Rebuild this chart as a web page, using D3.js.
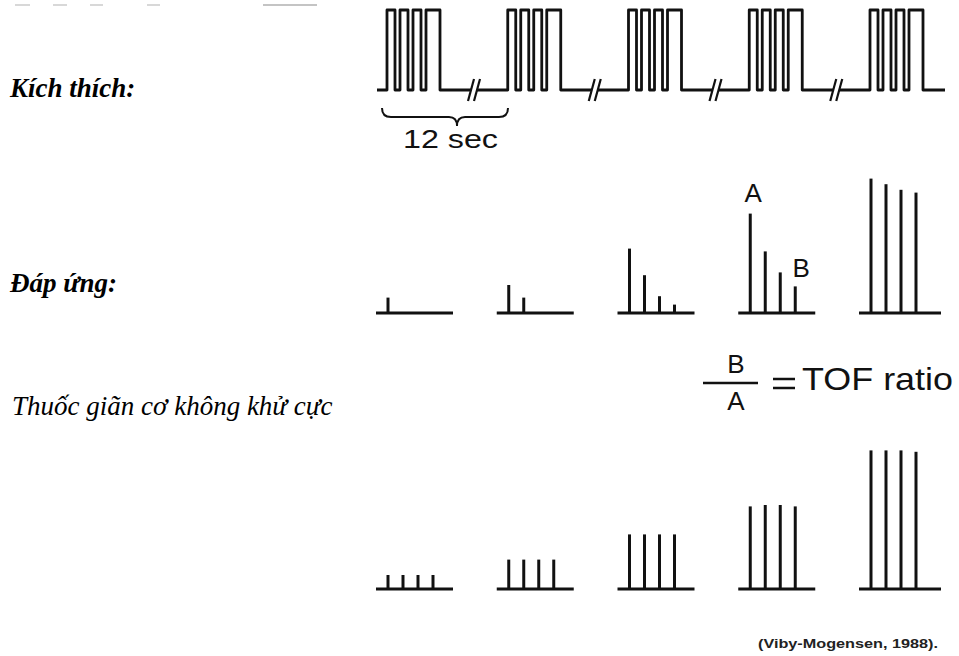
<!DOCTYPE html>
<html><head><meta charset="utf-8">
<script src="https://cdn.jsdelivr.net/npm/d3@7"></script>
<style>body{margin:0;background:#fff}</style>
</head><body><svg id="c" width="959" height="656"></svg>
<script>
// ---- data ----
const groups = [0, 1, 2, 3, 4];
// response heights, % of control twitch
const responseTOF = [[11], [20, 11], [46, 27, 12, 6], [71, 44, 29, 19], [96, 92, 88, 86]];
const responseNonDep = [[10, 10, 10, 10], [21, 21, 21, 21], [39, 39, 39, 39], [59, 60, 60, 59], [99, 99, 99, 98]];
// stimulus pulses in a train (time units)
const pulseStarts = [0, 13, 26, 39];
const pulseDur = [8, 8, 8, 14];
const rowLabels = ["Kích thích:", "Đáp ứng:", "Thuốc giãn cơ không khử cực"];
const braceLabel = "12 sec";
const ratioLabel = "TOF ratio";
const citation = "(Viby-Mogensen, 1988).";

const svg = d3.select("#c");
svg.append("rect").attr("width", 959).attr("height", 656).attr("fill", "#fff");

const x = d3.scalePoint().domain(groups).range([388, 871]);
const spikeX = d3.scaleLinear().domain([0, 3]).range([0, 45]);
const h = d3.scaleLinear().domain([0, 100]).range([0, 140]);
const t = d3.scaleLinear().domain([0, 52]).range([0, 52]);
const ys = d3.scaleLinear().domain([0, 1]).range([90, 10]);

const sans = "'Liberation Sans', Arial, Helvetica, sans-serif";
const serif = "'Liberation Serif', 'Times New Roman', serif";

// faint remnants at top
const g0 = svg.append("g").attr("stroke-width", 2);
[[15, 30, "#d8d8d8"], [53, 67, "#d8d8d8"], [90, 103, "#d8d8d8"], [147, 160, "#d8d8d8"], [263, 317, "#c4c4c4"]].forEach(s => {
  g0.append("line").attr("x1", s[0]).attr("x2", s[1]).attr("y1", 5).attr("y2", 5).attr("stroke", s[2]);
});

// ---- stimulus ----
const p = d3.path();
const y0 = ys(0), y1 = ys(1);
p.moveTo(377, y0);
const breaks = [];
groups.forEach(g => {
  const sx = x(g) - 1;
  p.lineTo(sx, y0);
  pulseStarts.forEach((s, i) => {
    const a = sx + t(s), b = a + t(pulseDur[i]);
    p.lineTo(a, y0); p.lineTo(a, y1); p.lineTo(b, y1); p.lineTo(b, y0);
  });
  if (g < groups.length - 1) {
    const bx = x(g) + 88;
    breaks.push(bx);
    p.lineTo(bx - 5, y0);
    p.moveTo(bx + 1, y0);
  } else {
    p.lineTo(945, y0);
  }
});
svg.append("path").attr("d", p.toString()).attr("fill", "none").attr("stroke", "#111")
  .attr("stroke-width", 2.8).attr("stroke-linejoin", "round");
breaks.forEach(bx => {
  [[-8, -2], [-2, 4]].forEach(o => {
    svg.append("line").attr("x1", bx + o[0]).attr("y1", y0 + 11).attr("x2", bx + o[1]).attr("y2", y0 - 11)
      .attr("stroke", "#111").attr("stroke-width", 2.2);
  });
});

// brace + 12 sec
svg.append("path")
  .attr("d", "M382,108 Q382,117 391,117 L449,117 Q457,117 457,126 Q457,117 465,117 L499,117 Q508,117 508,108")
  .attr("fill", "none").attr("stroke", "#111").attr("stroke-width", 2);
svg.append("text").attr("x", 403).attr("y", 148).attr("font-family", sans).attr("font-size", 26)
  .attr("textLength", 95).attr("lengthAdjust", "spacingAndGlyphs").attr("fill", "#111").text(braceLabel);

// ---- responses ----
function drawRow(data, base) {
  const gr = svg.append("g");
  groups.forEach(g => {
    gr.append("line").attr("x1", x(g) - 12).attr("x2", x(g) + (g === 4 ? 70 : 65))
      .attr("y1", base).attr("y2", base).attr("stroke", "#111").attr("stroke-width", 3);
    gr.selectAll(null).data(data[g]).enter().append("line")
      .attr("x1", (d, i) => x(g) + spikeX(i)).attr("x2", (d, i) => x(g) + spikeX(i))
      .attr("y1", base).attr("y2", d => base - h(d))
      .attr("stroke", "#111").attr("stroke-width", 3);
  });
}
const base1 = 313, base2 = 589;
drawRow(responseTOF, base1);
drawRow(responseNonDep, base2);

// A and B labels
svg.append("text").attr("x", x(3) + 3).attr("y", base1 - h(responseTOF[3][0]) - 12)
  .attr("text-anchor", "middle").attr("font-family", sans).attr("font-size", 26).attr("fill", "#111").text("A");
svg.append("text").attr("x", x(3) + spikeX(3) + 6).attr("y", base1 - h(responseTOF[3][3]) - 9)
  .attr("text-anchor", "middle").attr("font-family", sans).attr("font-size", 26).attr("fill", "#111").text("B");

// TOF ratio formula
svg.append("text").attr("x", 736).attr("y", 373).attr("text-anchor", "middle").attr("font-family", sans)
  .attr("font-size", 26).attr("fill", "#111").text("B");
svg.append("line").attr("x1", 703).attr("x2", 758).attr("y1", 383).attr("y2", 383)
  .attr("stroke", "#111").attr("stroke-width", 2.5);
svg.append("text").attr("x", 736).attr("y", 410).attr("text-anchor", "middle").attr("font-family", sans)
  .attr("font-size", 26).attr("fill", "#111").text("A");
svg.append("line").attr("x1", 773).attr("x2", 795).attr("y1", 379).attr("y2", 379).attr("stroke", "#111").attr("stroke-width", 2.5);
svg.append("line").attr("x1", 773).attr("x2", 795).attr("y1", 388).attr("y2", 388).attr("stroke", "#111").attr("stroke-width", 2.5);
svg.append("text").attr("x", 802).attr("y", 390).attr("font-family", sans).attr("font-size", 32)
  .attr("textLength", 151).attr("lengthAdjust", "spacingAndGlyphs").attr("fill", "#111").text(ratioLabel);

// row labels
svg.append("text").attr("x", 10).attr("y", 97).attr("font-family", serif).attr("font-size", 27)
  .attr("font-weight", "bold").attr("font-style", "italic").attr("fill", "#000").text(rowLabels[0]);
svg.append("text").attr("x", 10).attr("y", 292).attr("font-family", serif).attr("font-size", 27)
  .attr("font-weight", "bold").attr("font-style", "italic").attr("fill", "#000").text(rowLabels[1]);
svg.append("text").attr("x", 12).attr("y", 415).attr("font-family", serif).attr("font-size", 27)
  .attr("font-style", "italic").attr("fill", "#000").text(rowLabels[2]);

// citation
svg.append("text").attr("x", 758).attr("y", 648).attr("font-family", sans).attr("font-size", 13)
  .attr("font-weight", "bold").attr("textLength", 180).attr("lengthAdjust", "spacingAndGlyphs")
  .attr("fill", "#222").text(citation);
</script></body></html>
